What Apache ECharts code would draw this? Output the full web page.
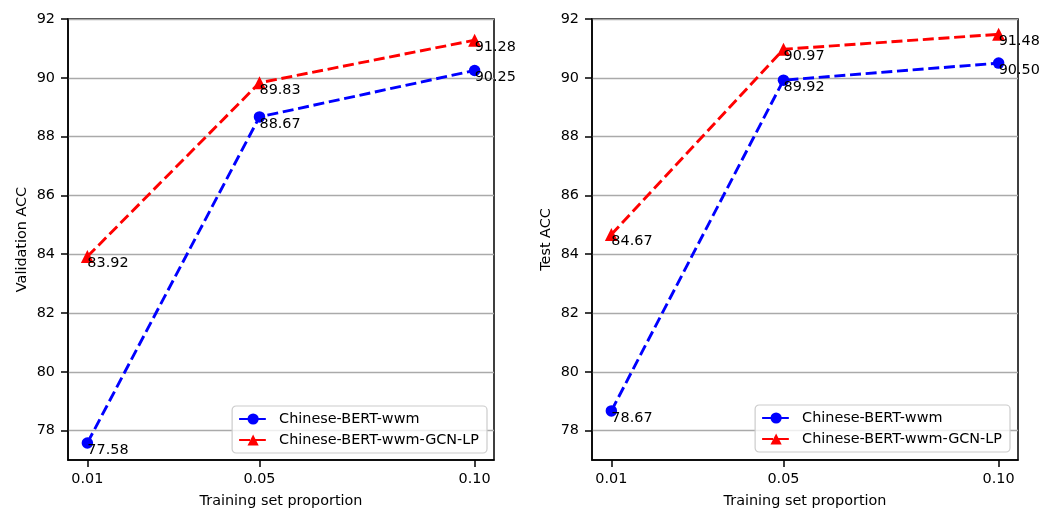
<!DOCTYPE html>
<html>
<head>
<meta charset="utf-8">
<script src="https://cdn.jsdelivr.net/npm/echarts@6/dist/echarts.min.js"></script>
<style>html,body{margin:0;padding:0;background:#fff}#c{width:1044px;height:510px}</style>
</head>
<body>
<div id="c"></div>
<script>
const xValues = [0.01, 0.05, 0.10];
const yTicks = [78, 80, 82, 84, 86, 88, 90, 92];
const seriesNames = ['Chinese-BERT-wwm', 'Chinese-BERT-wwm-GCN-LP'];
const valWwm = [77.58, 88.67, 90.25];
const valGcn = [83.92, 89.83, 91.28];
const testWwm = [78.67, 89.92, 90.50];
const testGcn = [84.67, 90.97, 91.48];
const yTitles = ['Validation ACC', 'Test ACC'];
const xTitle = 'Training set proportion';

const FONT = 'DejaVu Sans';
const FS = 14.4;
const grids = [
  {left: 68, right: 550, top: 19, bottom: 50},
  {left: 592, right: 26, top: 19, bottom: 50}
];

function pairs(ys) { return xValues.map((x, i) => [x, ys[i]]); }

function mkSeries(name, ys, idx, color, symbol, size) {
  return {
    type: 'line', name: name, data: pairs(ys),
    xAxisIndex: idx, yAxisIndex: idx,
    symbol: symbol, symbolSize: size,
    itemStyle: {color: color},
    lineStyle: {color: color, width: 2.9, type: [11, 4.7]},
    label: {
      show: true, position: ['50%', '50%'], align: 'left', verticalAlign: 'top',
      color: '#000', fontFamily: FONT, fontSize: FS,
      formatter: p => p.value[1].toFixed(2)
    },
    z: 3
  };
}

const xAxes = grids.map((g, i) => ({
  type: 'value', gridIndex: i, min: 0.0055, max: 0.1045,
  name: xTitle, nameLocation: 'middle', nameGap: 34,
  nameTextStyle: {fontFamily: FONT, fontSize: FS, color: '#000'},
  axisLine: {show: true, lineStyle: {color: '#000', width: 1.5}},
  axisTick: {show: true, inside: false, length: 7, customValues: xValues, lineStyle: {color: '#000', width: 1.5}},
  axisLabel: {customValues: xValues, formatter: v => v.toFixed(2), margin: 12, fontFamily: FONT, fontSize: FS, color: '#000'},
  splitLine: {show: false}
}));

const yAxes = grids.map((g, i) => ({
  type: 'value', gridIndex: i, min: 77, max: 92,
  name: yTitles[i], nameLocation: 'middle', nameGap: 39, nameRotate: 90,
  nameTextStyle: {fontFamily: FONT, fontSize: FS, color: '#000'},
  axisLine: {show: true, lineStyle: {color: '#000', width: 1.5}},
  axisTick: {show: true, inside: false, length: 7, customValues: yTicks, lineStyle: {color: '#000', width: 1.5}},
  axisLabel: {customValues: yTicks, margin: 13, fontFamily: FONT, fontSize: FS, color: '#000'},
  splitLine: {show: true, lineStyle: {color: '#aaaaaa', width: 1.3}}
}));

const legendBase = {
  orient: 'vertical', selectedMode: false, data: seriesNames,
  itemWidth: 28, itemHeight: 14, itemGap: 7, padding: [6, 8, 6, 6],
  backgroundColor: 'rgba(255,255,255,0.8)', borderColor: '#cccccc', borderWidth: 1.2, borderRadius: 4,
  textStyle: {fontFamily: FONT, fontSize: FS, color: '#000', padding: [0, 0, 0, 7]}
};

const option = {
  animation: false,
  backgroundColor: '#fff',
  grid: grids.map(g => Object.assign({show: true, borderColor: '#000', borderWidth: 1.5, backgroundColor: 'transparent', containLabel: false, outerBoundsMode: 'none'}, g)),
  xAxis: xAxes,
  yAxis: yAxes,
  legend: [
    Object.assign({right: 557, bottom: 57}, legendBase),
    Object.assign({right: 34, bottom: 58}, legendBase)
  ],
  series: [
    mkSeries(seriesNames[0], valWwm, 0, '#0000ff', 'circle', 11.5),
    mkSeries(seriesNames[1], valGcn, 0, '#ff0000', 'triangle', 13),
    mkSeries(seriesNames[0], testWwm, 1, '#0000ff', 'circle', 11.5),
    mkSeries(seriesNames[1], testGcn, 1, '#ff0000', 'triangle', 13)
  ]
};
const chart = echarts.init(document.getElementById('c'), null, {renderer: 'canvas'});
chart.setOption(option);
</script>
</body>
</html>
